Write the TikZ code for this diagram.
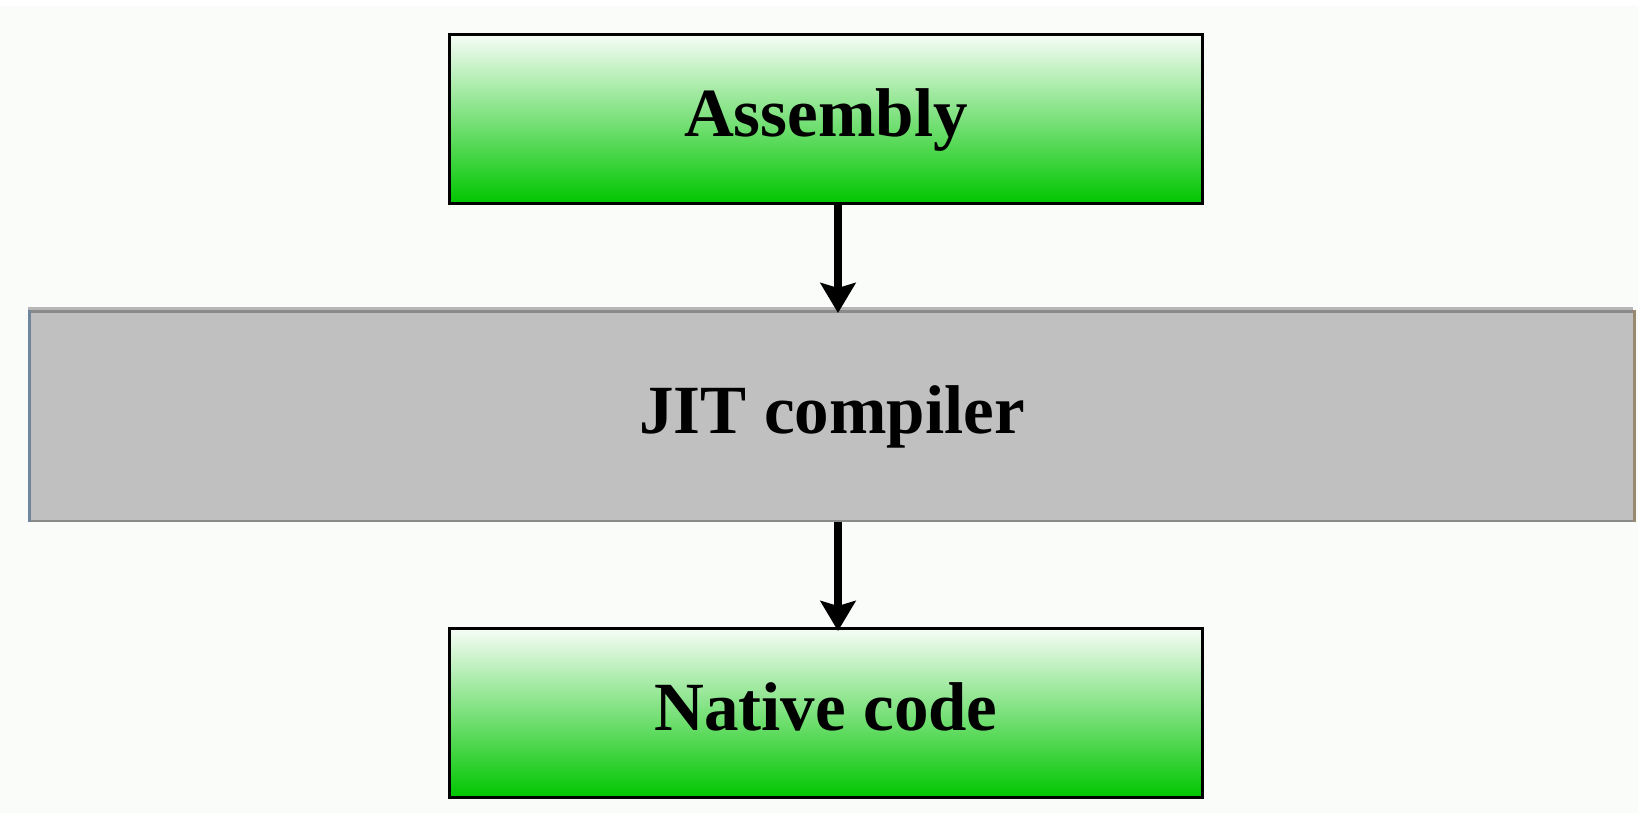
\documentclass[tikz,border=0pt]{standalone}
\usepackage{fontspec}
\setmainfont{Liberation Serif}
\usetikzlibrary{arrows.meta,calc}
\definecolor{bgc}{RGB}{250,252,250}
\definecolor{gtop}{RGB}{246,252,246}
\definecolor{gbot}{RGB}{0,198,0}
\definecolor{jitfill}{RGB}{192,192,192}
\definecolor{jitlight}{RGB}{182,182,182}
\definecolor{jitdark}{RGB}{138,138,138}
\definecolor{jitleft}{RGB}{112,134,158}
\definecolor{jitright}{RGB}{154,136,112}
\tikzset{
  lbl/.style={font=\bfseries\fontsize{34.5pt}{40pt}\selectfont, text height=24pt, text depth=7pt, inner sep=0pt, outer sep=0pt},
  greenbox/.style={lbl, draw=black, line width=1.5pt, top color=gtop, bottom color=gbot, minimum width=376.5pt, minimum height=84.5pt},
  graybox/.style={lbl, fill=jitfill, minimum width=804pt, minimum height=106pt},
  flow/.style={line width=3.8pt, -{Stealth[length=15pt,width=17.5pt,inset=2.5pt]}}
}
\begin{document}
\begin{tikzpicture}[x=0.5pt,y=-0.5pt]
\fill[bgc] (0,0) rectangle (1638,813);
\useasboundingbox (0,0) rectangle (1638,813);
\fill[white] (0,0) rectangle (1638,6);

\node[greenbox] (asm) at (826,119) {Assembly};
\node[graybox]  (jit) at (832,416) {JIT compiler};
\node[greenbox] (nat) at (826,713) {Native code};

% JIT box borders
\draw[jitlight, line width=1.5pt] ($(jit.north west)+(0,-1.5)$) -- ($(jit.north east)+(-3,-1.5)$);
\draw[jitdark, line width=1.5pt] ($(jit.north west)+(0,1.5)$) -- ($(jit.north east)+(0,1.5)$);
\draw[jitdark, line width=1pt] ($(jit.south west)+(0,-1)$) -- ($(jit.south east)+(0,-1)$);
\draw[jitleft, line width=1.5pt] ($(jit.north west)+(1.5,0)$) -- ($(jit.south west)+(1.5,0)$);
\draw[jitright, line width=1.5pt] ($(jit.north east)+(-1.5,0)$) -- ($(jit.south east)+(-1.5,0)$);

% connectors
\draw[flow, shorten >=-1.5pt] ([xshift=6pt]asm.south) -- ([xshift=6pt]asm.south |- jit.north);
\draw[flow, shorten >=-1.25pt] ([xshift=6pt]asm.south |- jit.south) -- ([xshift=6pt]nat.north);
\end{tikzpicture}
\end{document}
